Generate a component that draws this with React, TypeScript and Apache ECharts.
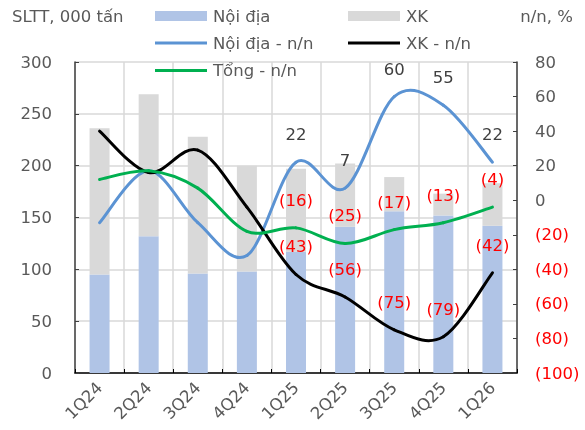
import React, { useEffect, useRef } from "react";
import * as echarts from "echarts";

const categories = ["1Q24", "2Q24", "3Q24", "4Q24", "1Q25", "2Q25", "3Q25", "4Q25", "1Q26"];
const noiDia = [95, 132, 96, 98, 117, 141, 156, 152, 142];
const xk = [141, 137, 132, 102, 80, 61, 33, 21, 41];
const noiDiaYoY = [-13, 17, -13, -32, 22, 7, 60, 55, 22];
const xkYoY = [40, 16, 29, -4, -43, -56, -75, -79, -42];
const tongYoY = [12, 17, 7, -18, -16, -25, -17, -13, -4];

const FONT = "DejaVu Sans";
const FS = 16.5;
const GREY_TEXT = "#595959";
const RED = "#FF0000";

// Excel-like smoothed curve (Catmull-Rom Bezier) drawn through the chart's own coordinate system
function smoothCurve(values: number[], color: string) {
  return {
    type: "custom",
    coordinateSystem: "cartesian2d",
    xAxisIndex: 0,
    yAxisIndex: 1,
    z: 3,
    silent: true,
    encode: { x: 0, y: 1 },
    data: values.map((v, i) => [i, v]),
    renderItem: (params: any, api: any) => {
      const i = params.dataIndex;
      const n = values.length;
      if (i >= n - 1) return null;
      const pt = (j: number) => {
        const k = Math.max(0, Math.min(n - 1, j));
        return api.coord([k, values[k]]);
      };
      const p0 = pt(i - 1);
      const p1 = pt(i);
      const p2 = pt(i + 1);
      const p3 = pt(i + 2);
      return {
        type: "bezierCurve",
        shape: {
          x1: p1[0],
          y1: p1[1],
          x2: p2[0],
          y2: p2[1],
          cpx1: p1[0] + (p2[0] - p0[0]) / 6,
          cpy1: p1[1] + (p2[1] - p0[1]) / 6,
          cpx2: p2[0] - (p3[0] - p1[0]) / 6,
          cpy2: p2[1] - (p3[1] - p1[1]) / 6,
        },
        style: { stroke: color, lineWidth: 3, fill: null, lineCap: "round" },
      };
    },
  };
}

export default function App() {
  const ref = useRef<HTMLDivElement>(null);
  useEffect(() => {
    if (!ref.current) return;
    const chart = echarts.init(ref.current, undefined, { renderer: "svg" });
    const labelFmt = (p: any) => {
      if (p.dataIndex < 4) return "";
      const v = p.value as number;
      return v < 0 ? `{n|(${-v})}` : `{p|${v}}`;
    };
    const lineLabel = {
      show: true,
      position: "top",
      distance: 19,
      formatter: labelFmt,
      rich: {
        n: { color: RED, fontSize: FS, fontFamily: FONT },
        p: { color: "#404040", fontSize: FS, fontFamily: FONT },
      },
    };
    const legendBase = {
      orient: "horizontal",
      padding: 0,
      itemWidth: 52,
      icon: "rect",
      itemGap: 10,
      textStyle: { fontSize: FS, color: GREY_TEXT, fontFamily: FONT, padding: [0, 0, 0, 1] },
    };
    const labelSeries = (name: string, values: number[], color: string) => ({
      name,
      type: "line",
      yAxisIndex: 1,
      z: 4,
      symbol: "circle",
      symbolSize: 0.1,
      lineStyle: { width: 3, color, opacity: 0 },
      itemStyle: { color },
      label: lineLabel,
      data: values,
    });
    const option: any = {
      animation: false,
      textStyle: { fontFamily: FONT },
      title: [
        {
          text: "SLTT, 000 tấn",
          left: 12,
          top: 8,
          padding: 0,
          textStyle: { fontSize: FS, fontWeight: "normal", color: GREY_TEXT, fontFamily: FONT },
        },
        {
          text: "n/n, %",
          right: 12,
          top: 8,
          padding: 0,
          textStyle: { fontSize: FS, fontWeight: "normal", color: GREY_TEXT, fontFamily: FONT },
        },
      ],
      legend: [
        { ...legendBase, left: 155, top: 7.5, itemHeight: 10, data: ["Nội địa"] },
        { ...legendBase, left: 348, top: 7.5, itemHeight: 10, data: ["XK"] },
        { ...legendBase, left: 155, top: 34.5, itemHeight: 3, data: ["Nội địa - n/n"] },
        { ...legendBase, left: 348, top: 34.5, itemHeight: 3, data: ["XK - n/n"] },
        { ...legendBase, left: 155, top: 62, itemHeight: 3, data: ["Tổng - n/n"] },
      ],
      grid: { left: 75, right: 68, top: 62, bottom: 57, containLabel: false },
      xAxis: {
        type: "category",
        data: categories,
        boundaryGap: true,
        axisLine: { show: true, lineStyle: { color: "#000", width: 1.5 } },
        axisTick: { show: true, inside: true, length: 4, lineStyle: { color: "#000" } },
        splitLine: { show: true, lineStyle: { color: "#D9D9D9", width: 1.5 } },
        axisLabel: { rotate: 45, fontSize: FS, color: GREY_TEXT, margin: 12, fontFamily: FONT },
      },
      yAxis: [
        {
          type: "value",
          min: 0,
          max: 300,
          interval: 50,
          position: "left",
          axisLine: { show: true, lineStyle: { color: "#404040", width: 1.5 } },
          axisTick: { show: true, inside: true, length: 4, lineStyle: { color: "#404040" } },
          splitLine: { show: true, lineStyle: { color: "#D9D9D9", width: 1.5 } },
          axisLabel: { fontSize: FS, color: GREY_TEXT, margin: 23, fontFamily: FONT },
        },
        {
          type: "value",
          min: -100,
          max: 80,
          interval: 20,
          position: "right",
          axisLine: { show: true, lineStyle: { color: "#404040", width: 1.5 } },
          axisTick: { show: true, inside: true, length: 4, lineStyle: { color: "#404040" } },
          splitLine: { show: false },
          axisLabel: {
            margin: 18,
            formatter: (v: number) => (v < 0 ? `{n|(${-v})}` : `{p|${v}}`),
            rich: {
              n: { color: RED, fontSize: FS, fontFamily: FONT },
              p: { color: GREY_TEXT, fontSize: FS, fontFamily: FONT },
            },
          },
        },
      ],
      series: [
        {
          name: "Nội địa",
          type: "bar",
          stack: "total",
          yAxisIndex: 0,
          barWidth: 20,
          itemStyle: { color: "#B0C4E6" },
          data: noiDia,
        },
        {
          name: "XK",
          type: "bar",
          stack: "total",
          yAxisIndex: 0,
          barWidth: 20,
          itemStyle: { color: "#D9D9D9" },
          data: xk,
        },
        smoothCurve(noiDiaYoY, "#5B93D3"),
        smoothCurve(xkYoY, "#000000"),
        smoothCurve(tongYoY, "#00B050"),
        labelSeries("Nội địa - n/n", noiDiaYoY, "#5B93D3"),
        labelSeries("XK - n/n", xkYoY, "#000000"),
        labelSeries("Tổng - n/n", tongYoY, "#00B050"),
      ],
    };
    chart.setOption(option);
    return () => chart.dispose();
  }, []);
  return <div ref={ref} style={{ width: 585, height: 430, position: "fixed", left: 0, top: 0 }} />;
}
